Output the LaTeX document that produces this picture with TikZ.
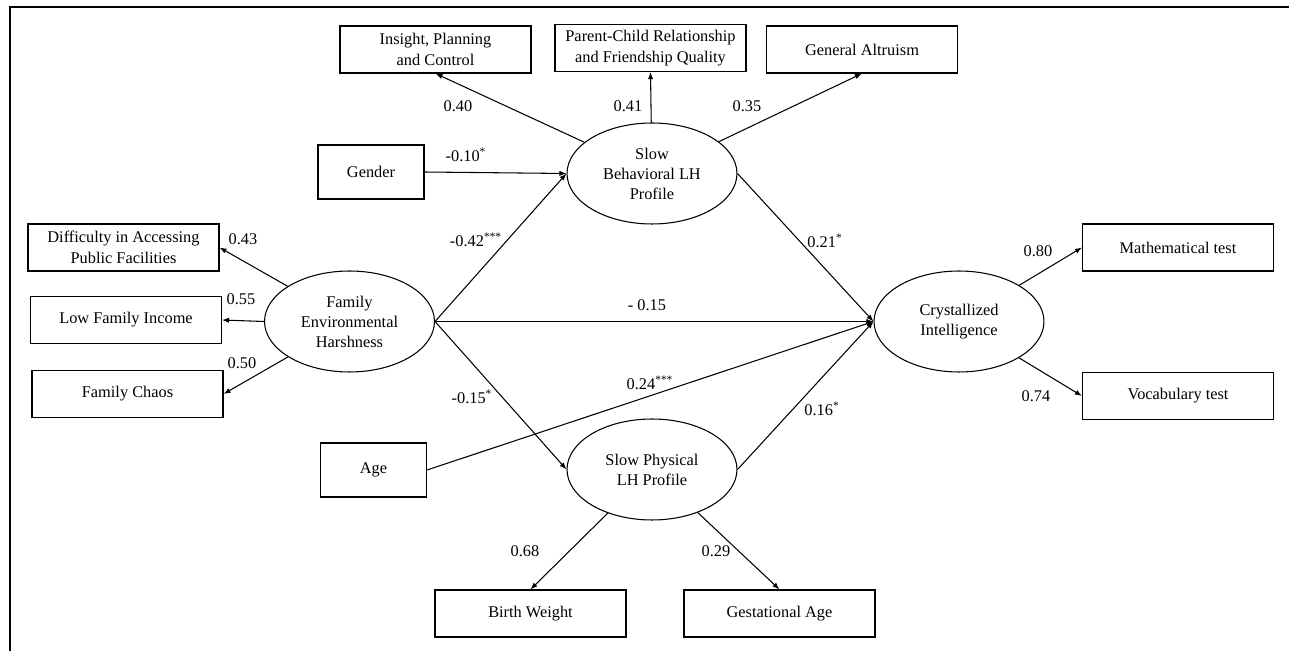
\documentclass[tikz,border=0pt]{standalone}
\usepackage{fontspec}
\setmainfont{Liberation Serif}
\usetikzlibrary{shapes.geometric,arrows.meta}

\tikzset{
  box/.style={draw, line width=0.6pt, align=center, inner sep=1pt,
    minimum width=3.82cm, minimum height=0.94cm, font=\fontsize{9.3}{11.6}\selectfont},
  smallbox/.style={box, minimum width=2.12cm, minimum height=1.08cm},
  latent/.style={draw, ellipse, line width=0.6pt, align=center, inner sep=1pt,
    minimum width=3.4cm, minimum height=2.02cm, font=\fontsize{9.3}{11.4}\selectfont},
  path/.style={line width=0.6pt, -{Latex[length=4pt,width=3pt]}},
  coef/.style={font=\fontsize{9.3}{11}\selectfont, inner sep=0pt}
}
\newcommand{\sig}[1]{\textsuperscript{#1}}

\begin{document}
\begin{tikzpicture}[x=0.02cm, y=-0.02cm]
\useasboundingbox (0,0) rectangle (1289,651);
\draw[line width=1.2pt] (10,651) -- (10,7) -- (1289,7); % frame

% latent variables
\draw (652, 173.5) node[latent] (sbeh) {Slow\\Behavioral LH\\Profile};
\draw (349.5, 321.5) node[latent] (feh) {Family\\Environmental\\Harshness};
\draw (959, 321.5) node[latent] (ci) {Crystallized\\Intelligence};
\draw (652, 469.5) node[latent] (sphys) {Slow Physical\\LH Profile};

% indicators
\draw (435.5, 49.5) node[box] (insight) {Insight, Planning\\and Control};
\draw (650.5, 48) node[box] (parent) {Parent-Child Relationship\\and Friendship Quality};
\draw (862, 49.5) node[box] (altru) {General Altruism};
\draw (123.5, 247.5) node[box] (diff) {Difficulty in Accessing\\Public Facilities};
\draw (126, 320) node[box] (income) {Low Family Income};
\draw (127.5, 394) node[box] (chaos) {Family Chaos};
\draw (1178, 247.5) node[box] (math) {Mathematical test};
\draw (1178, 396) node[box] (vocab) {Vocabulary test};
\draw (530.5, 613.5) node[box] (birth) {Birth Weight};
\draw (779.5, 613.5) node[box] (gest) {Gestational Age};

% covariates
\draw (371, 172) node[smallbox] (gender) {Gender};
\draw (373.5, 470) node[smallbox] (age) {Age};

% loadings
\draw[path] (sbeh) -- (insight.south);
\draw[path] (sbeh) -- (parent.south);
\draw[path] (sbeh) -- (altru.south);
\draw[path] (feh) -- (diff.east);
\draw[path] (feh.west) -- (income.east);
\draw[path] (feh) -- (chaos.east);
\draw[path] (ci) -- (math.west);
\draw[path] (ci) -- (vocab.west);
\draw[path] (sphys) -- (birth.north);
\draw[path] (sphys) -- (gest.north);

% structural paths
\draw[path] (gender.east) -- (sbeh.west);
\draw[path] (feh.east) -- (sbeh.west);
\draw[path] (feh.east) -- (sphys.west);
\draw[path] (feh.east) -- (ci.west);
\draw[path] (sbeh.east) -- (ci.west);
\draw[path] (sphys.east) -- (ci.west);
\draw[path] (age.east) -- (ci.west);

% coefficients
\draw (458, 106) node[coef] (c1) {0.40};
\draw (628, 106) node[coef] (c2) {0.41};
\draw (747, 106) node[coef] (c3) {0.35};
\draw (466, 155) node[coef] (c4) {-0.10\sig{*}};
\draw (243, 239) node[coef] (c5) {0.43};
\draw (241, 299) node[coef] (c6) {0.55};
\draw (242, 363) node[coef] (c7) {0.50};
\draw (476, 240) node[coef] (c8) {-0.42\sig{***}};
\draw (825, 241) node[coef] (c9) {0.21\sig{*}};
\draw (647, 305) node[coef] (c10) {- 0.15};
\draw (650, 383) node[coef] (c11) {0.24\sig{***}};
\draw (472, 397) node[coef] (c12) {-0.15\sig{*}};
\draw (822, 409) node[coef] (c13) {0.16\sig{*}};
\draw (1038, 251) node[coef] (c14) {0.80};
\draw (1036, 396) node[coef] (c15) {0.74};
\draw (525, 551) node[coef] (c16) {0.68};
\draw (716, 551) node[coef] (c17) {0.29};

\end{tikzpicture}
\end{document}
